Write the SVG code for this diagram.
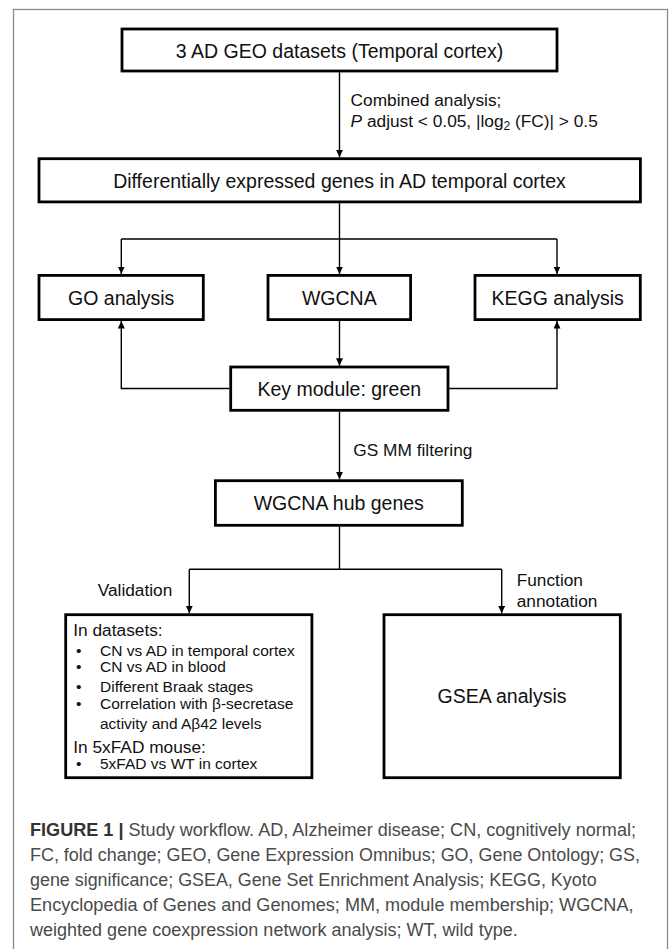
<svg xmlns="http://www.w3.org/2000/svg" width="672" height="949" viewBox="0 0 672 949">
<defs>
<marker id="ah" markerUnits="userSpaceOnUse" markerWidth="8" markerHeight="8" refX="7.5" refY="3.5" orient="auto">
<path d="M0,0 L7.5,3.5 L0,7 z" fill="#000"/>
</marker>
<style>
.box{fill:#fff;stroke:#000;stroke-width:2.8}
.bt{font-family:"Liberation Sans",Arial,Helvetica,sans-serif;font-size:19.5px;fill:#111;text-anchor:middle}
.lb{font-family:"Liberation Sans",Arial,Helvetica,sans-serif;font-size:17.3px;fill:#111}
.sm{font-family:"Liberation Sans",Arial,Helvetica,sans-serif;font-size:15.5px;fill:#111}
.cap{font-family:"Liberation Sans",Arial,Helvetica,sans-serif;font-size:17.5px;fill:#4a4a4a}
.ln{fill:none;stroke:#000;stroke-width:1.4}
.ar{fill:none;stroke:#000;stroke-width:1.4;marker-end:url(#ah)}
</style>
</defs>
<rect x="0" y="0" width="672" height="949" fill="#fff"/>
<rect x="13.5" y="9.5" width="654" height="960" fill="none" stroke="#8a8a8a" stroke-width="1.3"/>

<g id="connectors">
<line class="ar" x1="339.5" y1="72.3" x2="339.5" y2="157.3"/>
<line class="ar" x1="339.5" y1="203.3" x2="339.5" y2="274"/>
<line class="ln" x1="121.3" y1="239" x2="557" y2="239"/>
<line class="ar" x1="121.3" y1="239" x2="121.3" y2="274"/>
<line class="ar" x1="557" y1="239" x2="557" y2="274"/>
<line class="ar" x1="339.5" y1="321" x2="339.5" y2="365.7"/>
<path class="ar" d="M229.3,388.5 H121.3 V321"/>
<path class="ar" d="M449.3,388.5 H557 V321"/>
<line class="ar" x1="339.5" y1="411.7" x2="339.5" y2="479.3"/>
<line class="ln" x1="339.5" y1="526.7" x2="339.5" y2="569.3"/>
<line class="ln" x1="189.3" y1="569.3" x2="501.7" y2="569.3"/>
<line class="ar" x1="189.3" y1="569.3" x2="189.3" y2="613.3"/>
<line class="ar" x1="501.7" y1="569.3" x2="501.7" y2="613.3"/>
<text class="lb" x="350.6" y="106">Combined analysis;</text>
<text class="lb" x="350.6" y="127"><tspan font-style="italic">P</tspan> adjust &lt; 0.05, |log<tspan font-size="12" dy="3">2</tspan><tspan dy="-3"> (FC)| &gt; 0.5</tspan></text>
<text class="lb" x="353.3" y="455.5">GS MM filtering</text>
<text class="lb" x="97.7" y="596">Validation</text>
<text class="lb" x="516.7" y="585.5">Function</text>
<text class="lb" x="516.7" y="606.5">annotation</text>
</g>

<g id="n-geo">
<rect class="box" x="122" y="29" width="435" height="42"/>
<text class="bt" x="339.5" y="57.5">3 AD GEO datasets (Temporal cortex)</text>
</g>
<g id="n-deg">
<rect class="box" x="39" y="158.7" width="601.4" height="43.2"/>
<text class="bt" x="339.5" y="188.3">Differentially expressed genes in AD temporal cortex</text>
</g>
<g id="n-go">
<rect class="box" x="39" y="275.4" width="164.3" height="44.2"/>
<text class="bt" x="121.2" y="305">GO analysis</text>
</g>
<g id="n-wgcna">
<rect class="box" x="268" y="275.4" width="142.6" height="44.2"/>
<text class="bt" x="339.3" y="305">WGCNA</text>
</g>
<g id="n-kegg">
<rect class="box" x="475" y="275.4" width="165.3" height="44.2"/>
<text class="bt" x="557.7" y="305">KEGG analysis</text>
</g>
<g id="n-key">
<rect class="box" x="230.7" y="367" width="217.3" height="43.3"/>
<text class="bt" x="339.3" y="395.5">Key module: green</text>
</g>
<g id="n-hub">
<rect class="box" x="215.4" y="480.7" width="246.9" height="44.6"/>
<text class="bt" x="338.8" y="510">WGCNA hub genes</text>
</g>
<g id="n-validation">
<rect class="box" x="65.7" y="614.7" width="246.2" height="163"/>
<text class="lb" x="73.3" y="636">In datasets:</text>
<text class="sm" x="76" y="655.5">•</text><text class="sm" x="100" y="655.5">CN vs AD in temporal cortex</text>
<text class="sm" x="76" y="672">•</text><text class="sm" x="100" y="672">CN vs AD in blood</text>
<text class="sm" x="76" y="692">•</text><text class="sm" x="100" y="692">Different Braak stages</text>
<text class="sm" x="76" y="709">•</text><text class="sm" x="100" y="709">Correlation with β-secretase</text>
<text class="sm" x="100" y="729">activity and Aβ42 levels</text>
<text class="lb" x="73.3" y="752.7">In 5xFAD mouse:</text>
<text class="sm" x="76" y="769">•</text><text class="sm" x="100" y="769">5xFAD vs WT in cortex</text>
</g>
<g id="n-gsea">
<rect class="box" x="384" y="614.7" width="236.3" height="163"/>
<text class="bt" x="502" y="703">GSEA analysis</text>
</g>

<g id="caption">
<text class="cap" x="30" y="836" textLength="606" lengthAdjust="spacingAndGlyphs"><tspan font-weight="bold" fill="#333">FIGURE 1 |</tspan> Study workflow. AD, Alzheimer disease; CN, cognitively normal;</text>
<text class="cap" x="30" y="861" textLength="610" lengthAdjust="spacingAndGlyphs">FC, fold change; GEO, Gene Expression Omnibus; GO, Gene Ontology; GS,</text>
<text class="cap" x="30" y="886" textLength="566.6" lengthAdjust="spacingAndGlyphs">gene significance; GSEA, Gene Set Enrichment Analysis; KEGG, Kyoto</text>
<text class="cap" x="30" y="911" textLength="603.5" lengthAdjust="spacingAndGlyphs">Encyclopedia of Genes and Genomes; MM, module membership; WGCNA,</text>
<text class="cap" x="30" y="936" textLength="487.7" lengthAdjust="spacingAndGlyphs">weighted gene coexpression network analysis; WT, wild type.</text>
</g>
</svg>
